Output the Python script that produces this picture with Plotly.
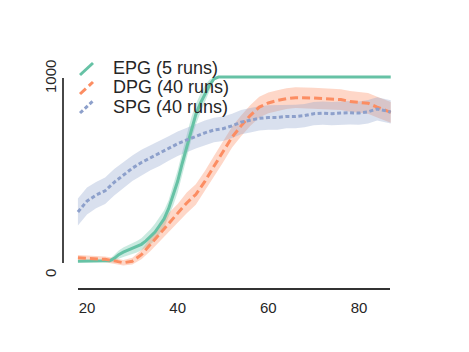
import plotly.graph_objects as go

# ---- data ----
epg_x = [18,20,22,24,25,26,27,28,29,30,31,32,33,34,35,36,37,38,39,40,41,42,43,44,45,46,47,48,49,50,55,60,65,70,75,80,85,87]
epg_y = [20,20,20,20,22,35,55,68,78,88,97,110,128,150,175,210,245,300,370,445,540,630,725,800,860,910,955,990,1000,1000,1000,1000,1000,1000,1000,1000,1000,1000]
epg_sd = [3,3,3,3,8,20,22,25,25,28,30,32,36,40,45,45,45,45,55,60,60,60,60,55,50,45,30,10,0,0,0,0,0,0,0,0,0,0]

dpg_x = [18,20,22,24,26,28,30,32,34,36,38,40,42,44,46,48,50,52,54,56,58,60,62,64,66,68,70,72,74,76,78,80,82,84,86,87]
dpg_y = [38,36,33,30,22,12,20,55,110,165,225,275,330,375,445,525,600,680,740,795,840,862,875,885,890,890,888,885,882,880,870,865,860,840,820,812]
dpg_sd = [15,15,15,15,15,15,18,25,35,45,50,50,55,55,55,55,55,55,55,55,55,55,55,55,55,55,55,55,55,55,55,55,55,55,55,55]

spg_x = [18,20,22,24,26,28,30,32,34,36,38,40,42,44,46,48,50,52,54,56,58,60,62,64,66,68,70,72,74,76,78,80,82,84,86,87]
spg_y = [282,340,372,395,440,478,515,545,570,592,620,645,665,685,703,718,725,740,760,770,780,785,785,790,790,795,805,808,805,808,810,808,815,830,818,814]
spg_sd = [72,72,70,70,70,70,68,68,66,66,65,65,65,65,65,65,65,65,65,65,65,65,65,62,62,62,62,62,62,62,62,62,62,62,62,62]

x_ticks = [20, 40, 60, 80]
y_ticks = [0, 1000]
legend_labels = ["EPG (5 runs)", "DPG (40 runs)", "SPG (40 runs)"]

GREEN, ORANGE, BLUE = "#66c2a5", "#fc8d62", "#8da0cb"
FILLS = ["rgba(102,194,165,0.35)", "rgba(252,141,98,0.35)", "rgba(141,160,203,0.33)"]
DASHES = ["solid", "8px,4px", "4px,2.5px"]
COLORS = [GREEN, ORANGE, BLUE]

W, H = 469, 352
L, R, T, B = 70, 69, 60, 72
PW, PH = W - L - R, H - T - B


def px(x):
    return (x - L) / PW


def py(y):
    return (H - B - y) / PH


fig = go.Figure()
series = [(epg_x, epg_y, epg_sd), (dpg_x, dpg_y, dpg_sd), (spg_x, spg_y, spg_sd)]
for i, (xs, ys, sd) in enumerate(series):
    up = [v + s for v, s in zip(ys, sd)]
    lo = [v - s for v, s in zip(ys, sd)]
    fig.add_trace(go.Scatter(x=xs + xs[::-1], y=up + lo[::-1], fill="toself",
                             fillcolor=FILLS[i], line=dict(width=0),
                             hoverinfo="skip", showlegend=False))
for i, (xs, ys, sd) in enumerate(series):
    fig.add_trace(go.Scatter(x=xs, y=ys, mode="lines", name=legend_labels[i],
                             line=dict(color=COLORS[i], width=3, dash=DASHES[i]),
                             showlegend=False))

# x-range so that 20 -> px 87, 80 -> px 359 ; y so that 1000 -> 77, 0 -> 265
sx = (359 - 87) / 60.0
x0 = 20 - (87 - L) / sx
x1 = 20 + (L + PW - 87) / sx
sy = (265 - 77) / 1000.0
y1 = 1000 + (77 - T) / sy
y0 = -(T + PH - 265) / sy

fig.update_layout(
    width=W, height=H, margin=dict(l=L, r=R, t=T, b=B),
    paper_bgcolor="white", plot_bgcolor="white",
    font=dict(family="Liberation Sans, Arial, sans-serif", color="#262626"),
    xaxis=dict(range=[x0, x1], tickvals=x_ticks, showgrid=False, zeroline=False,
               showline=False, ticks="", tickfont=dict(size=15), ticklabelstandoff=17),
    yaxis=dict(range=[y0, y1], tickvals=y_ticks, showgrid=False, zeroline=False,
               showline=False, showticklabels=False, ticks=""),
)

# spines (offset, trimmed)
axc = "#333333"
fig.add_shape(type="line", xref="paper", yref="paper", x0=px(78), x1=px(390),
              y0=py(289), y1=py(289), line=dict(color=axc, width=1.8))
fig.add_shape(type="line", xref="paper", yref="paper", x0=px(63), x1=px(63),
              y0=py(78), y1=py(263), line=dict(color=axc, width=1.8))

# y tick labels (rotated)
for txt, yc in zip(["1000", "0"], [77, 273]):
    fig.add_annotation(text=txt, xref="paper", yref="paper", x=px(50), y=py(yc),
                       showarrow=False, textangle=-90, font=dict(size=15),
                       xanchor="center", yanchor="middle")

# legend (diagonal handles)
handles = [((80, 75), (93, 63)), ((80, 94), (93, 82)), ((80, 113), (93, 101))]
text_y = [68, 87, 107]
for i in range(3):
    (a, b), (c, d) = handles[i]
    fig.add_shape(type="line", xref="paper", yref="paper", x0=px(a), y0=py(b),
                  x1=px(c), y1=py(d), line=dict(color=COLORS[i], width=3, dash=DASHES[i]))
    fig.add_annotation(text=legend_labels[i], xref="paper", yref="paper",
                       x=px(111), y=py(text_y[i]), showarrow=False,
                       xanchor="left", yanchor="middle", font=dict(size=18))

fig.write_html("out.html")
